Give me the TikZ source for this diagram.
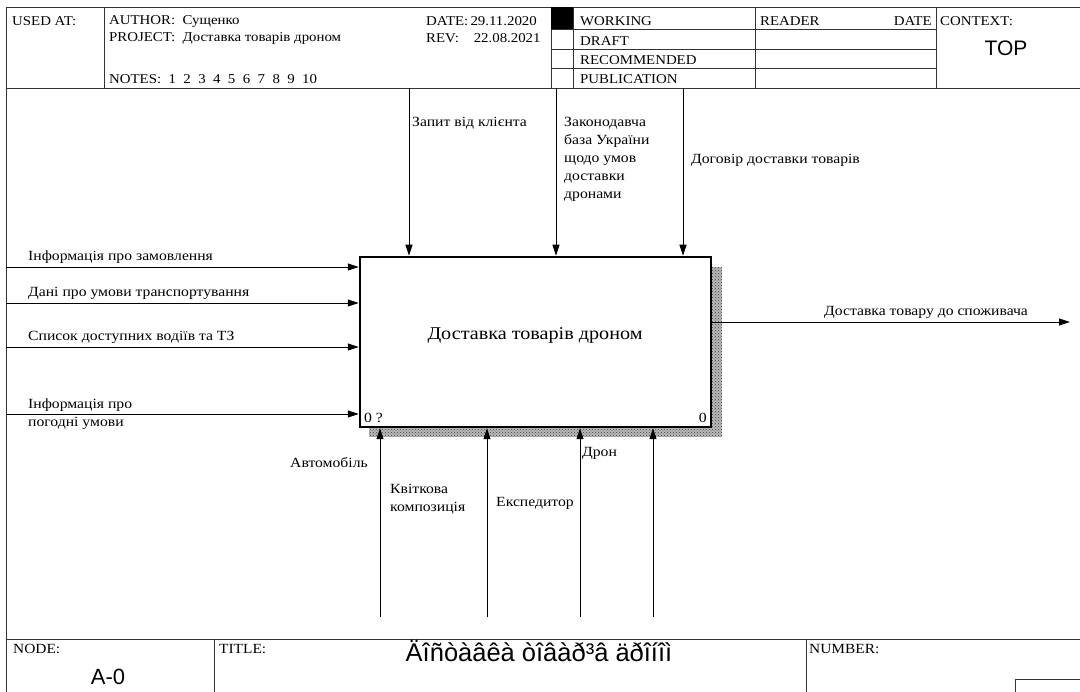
\documentclass[tikz,border=0pt]{standalone}
\usepackage{fontspec}
\setmainfont{Liberation Serif}
\newfontfamily\lblf[FakeStretch=1.12]{Liberation Serif}
\newfontfamily\hdrf[FakeStretch=1.1]{Liberation Serif}
\newfontfamily\sansf{Liberation Sans}
\usetikzlibrary{arrows.meta,patterns}
\tikzset{
  lbl/.style={font=\lblf\fontsize{14}{18}\selectfont,inner sep=0pt},
  hdr/.style={font=\hdrf\fontsize{13.5}{13.5}\selectfont,inner sep=0pt,anchor=west},
  foot/.style={font=\hdrf\fontsize{14}{14}\selectfont,inner sep=0pt,anchor=west},
  frm/.style={draw=black!80,line width=0.8pt},
  arr/.style={line width=0.9pt,-{Triangle[length=11pt,width=7pt]}}
}
\begin{document}
\begin{tikzpicture}[x=1pt,y=-1pt]
\useasboundingbox (0,0) rectangle (1080,692);
\clip (0,0) rectangle (1080,692);
% header
\draw[frm] (6,7) -- (1100,7);
\draw[frm] (6,88) -- (1100,88);
\draw[frm] (6,7) -- (6,720);
\foreach \x in {104,551,573,755,936} \draw[frm] (\x,7) -- (\x,88);
\foreach \y in {29,49,68} \draw[frm] (551,\y) -- (936,\y);
\fill (551,7) rectangle (573,29);
\node[hdr] (usedat) at (12,21) {USED AT:};
\node[hdr] (author) at (109,21) {AUTHOR:\ \ Сущенко};
\node[hdr] (project) at (109,38) {PROJECT:\ \ Доставка товарів дроном};
\node[hdr] (notes) at (109,79) {NOTES:\ \ 1\ \ 2\ \ 3\ \ 4\ \ 5\ \ 6\ \ 7\ \ 8\ \ 9\ \ 10};
\node[hdr] (date) at (426,21) {DATE:\,29.11.2020};
\node[hdr] (rev) at (426,38) {REV:\ \ \ \ 22.08.2021};
\foreach \n/\y/\t in {1/21/WORKING,2/41/DRAFT,3/60/RECOMMENDED,4/79/PUBLICATION}
  \node[hdr] (st\n) at (580,\y) {\t};
\node[hdr] (reader) at (760,21) {READER};
\node[hdr,anchor=east] (rdate) at (932,21) {DATE};
\node[hdr] (context) at (940,21) {CONTEXT:};
\node[font=\sansf\fontsize{21}{21}\selectfont,inner sep=0pt] (top) at (1006,48) {TOP};
% footer
\draw[frm] (6,639) -- (1100,639);
\foreach \x in {214,806} \draw[frm] (\x,639) -- (\x,720);
\draw[frm] (1015,679) rectangle (1100,720);
\node[foot] (node) at (13,649) {NODE:};
\node[font=\sansf\fontsize{22}{22}\selectfont,inner sep=0pt] (nodeno) at (108,677) {A-0};
\node[foot] (title) at (219,649) {TITLE:};
\node[font=\sansf\fontsize{25.5}{25.5}\selectfont,inner sep=0pt] (titletxt) at (539,651) {Äîñòàâêà òîâàð³â äðîíîì};
\node[foot] (number) at (809,649) {NUMBER:};
% function box
\fill[black!28] (369,267) rectangle (722,437);
\fill[pattern=crosshatch dots,pattern color=black!75] (369,267) rectangle (722,437);
\node[draw,fill=white,line width=2.5pt,minimum width=351pt,minimum height=170pt,inner sep=0pt] (fn) at (535.5,342) {};
\node[font=\lblf\fontsize{18}{18}\selectfont,inner sep=0pt] (fntxt) at (535,335) {Доставка товарів дроном};
\node[lbl,anchor=west] (fnl) at (364,418) {0 ?};
\node[lbl,anchor=east] (fnr) at (707,418) {0};
% inputs
\foreach \n/\y/\t in {1/267/{Інформація про замовлення},2/303/{Дані про умови транспортування},3/347/{Список доступних водіїв та ТЗ}} {
  \coordinate (in\n) at (6,\y);
  \draw[arr] (in\n) -- (in\n -| fn.west);
  \node[lbl,anchor=west] (inl\n) at (28,\y-10) {\t};
}
\coordinate (in4) at (6,414);
\draw[arr] (in4) -- (in4 -| fn.west);
\node[lbl,anchor=west,align=left] (inl4) at (28,414.5) {Інформація про\\погодні умови};
% controls
\foreach \n/\x in {1/409,2/556,3/683} {
  \coordinate (c\n) at (\x,88);
  \draw[arr] (c\n) -- (c\n |- fn.north);
}
\node[lbl,anchor=west] (cl1) at (412,123) {Запит від клієнта};
\node[lbl,anchor=west,align=left] (cl2) at (564,159) {Законодавча\\база України\\щодо умов\\доставки\\дронами};
\node[lbl,anchor=west] (cl3) at (691,160) {Договір доставки товарів};
% output
\coordinate (o1) at (1070,322);
\draw[arr] (o1 -| fn.east) -- (o1);
\node[lbl,anchor=west] (ol1) at (824,312) {Доставка товару до споживача};
% mechanisms
\foreach \n/\x in {1/380,2/487,3/580,4/653} {
  \coordinate (m\n) at (\x,617);
  \draw[arr] (m\n) -- (m\n |- fn.south);
}
\node[lbl,anchor=east] (ml1) at (368,463) {Автомобіль};
\node[lbl,anchor=west,align=left] (ml2) at (390,499) {Квіткова\\композиція};
\node[lbl,anchor=west] (ml3) at (496,503) {Експедитор};
\node[lbl,anchor=west] (ml4) at (582,453) {Дрон};
\end{tikzpicture}
\end{document}
